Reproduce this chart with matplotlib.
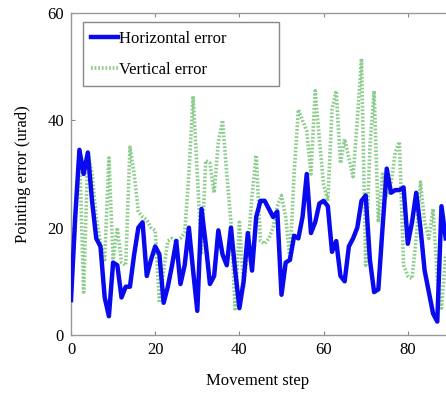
import matplotlib.pyplot as plt

plt.rcParams['font.family'] = ['Liberation Serif', 'DejaVu Serif']

steps = list(range(90))

horizontal = [6.5, 22, 34.5, 30, 34, 25, 18, 16.5, 7, 3.5,
              13.5, 13, 7, 9, 9, 15, 20, 21, 11, 14,
              16.5, 15, 6, 9, 13, 17.5, 9.5, 13, 20, 12,
              4.5, 23.5, 17, 9.5, 11, 19.5, 15, 13, 20, 12,
              5, 10, 19, 12, 22, 25, 25, 23.5, 22, 23,
              7.5, 13.5, 14, 18.5, 18, 22, 30, 19, 21, 24.5,
              25, 24, 15.5, 17.5, 11, 10, 16.5, 18, 20, 25,
              26, 14, 8, 8.5, 20, 31, 26.5, 27, 27, 27.5,
              17, 21, 26.5, 20, 12, 8, 4, 2.5, 24, 18]

vertical = [7, 20, 34.5, 8, 34, 30, 22, 17, 14, 33,
            14, 20, 13.5, 13, 35, 30, 23, 22, 21.5, 20,
            19.5, 6, 12, 17.5, 18, 17.5, 18, 19, 30, 44.5,
            30, 15, 32.5, 32, 26.5, 36, 40, 30, 21, 4.5,
            21, 9, 16, 26, 33.5, 17.5, 17, 18, 20, 24,
            26, 22, 14, 30, 42, 40, 38, 30, 45.5, 36.5,
            28, 25, 42, 45.5, 32, 36.5, 33, 29.5, 40, 51.5,
            13, 35, 45.5, 21, 30, 26, 28, 34, 36, 13,
            11, 10.5, 18, 28.5, 21, 18, 23.5, 10.5, 5, 15]

x_ticks = [0, 20, 40, 60, 80]
y_ticks = [0, 20, 40, 60]

fig = plt.figure(figsize=(4.46, 3.94), dpi=100)
# axes runs past the right edge, as in the cropped original
ax = fig.add_axes([71 / 446, 59 / 394, 421 / 446, 322 / 394])

ax.plot(steps, horizontal, color='#0a0aee', lw=3.2, label='Horizontal error', zorder=3)
ax.plot(steps, vertical, color='#8ccc8c', lw=2.6, linestyle=(0, (0.5, 0.5)),
        label='Vertical error', zorder=2)

ax.set_xlim(0, 100)
ax.set_ylim(0, 60)
ax.set_xticks(x_ticks)
ax.set_yticks(y_ticks)
ax.tick_params(direction='in', length=3, color='#888888', labelsize=12,
               top=True, right=True, pad=5)
for s in ax.spines.values():
    s.set_color('#999999')
    s.set_linewidth(1.0)

ax.set_xlabel('Movement step', fontsize=12)
ax.xaxis.set_label_coords(0.444, -0.118)
ax.set_ylabel('Pointing error (urad)', fontsize=12, labelpad=12)

leg = ax.legend(loc='upper left', bbox_to_anchor=(0.028, 0.971, 0.466, 0.0),
                mode='expand', fontsize=12, handlelength=1.6, handletextpad=0.1,
                labelspacing=0.9, borderpad=0.5, fancybox=False, framealpha=1,
                edgecolor='#888888', borderaxespad=0)
leg.get_frame().set_linewidth(1.0)

fig.savefig('out.png', dpi=100)
